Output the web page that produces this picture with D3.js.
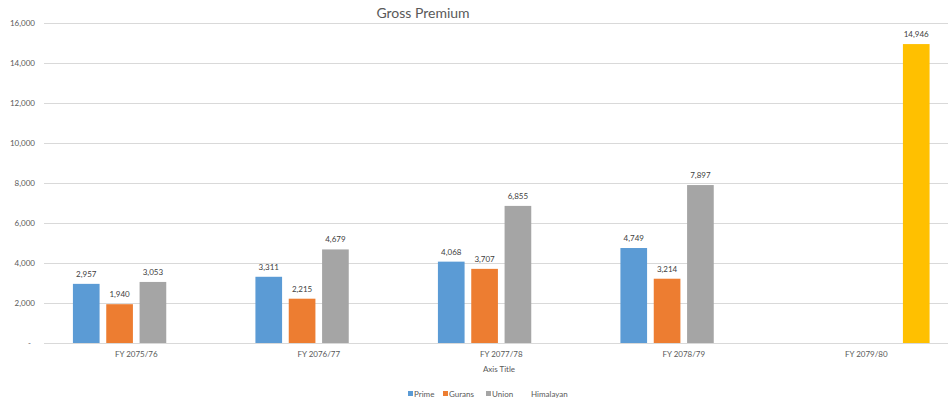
<!DOCTYPE html>
<html>
<head>
<meta charset="utf-8">
<script src="https://cdn.jsdelivr.net/npm/d3@7"></script>
<style>
  html, body { margin: 0; padding: 0; background: #fff; }
  svg { display: block; font-family: Lato, "Open Sans", sans-serif; }
</style>
</head>
<body>
<svg id="chart" width="948" height="404"></svg>
<script>
// Gross premium by fiscal year, one series per insurer
const categories = ["FY 2075/76", "FY 2076/77", "FY 2077/78", "FY 2078/79", "FY 2079/80"];
const seriesNames = ["Prime", "Gurans", "Union", "Himalayan"];
const prime     = [2957, 3311, 4068, 4749, null];
const gurans    = [1940, 2215, 3707, 3214, null];
const union     = [3053, 4679, 6855, 7897, null];
const himalayan = [null, null, null, null, 14946];
const yTicks = [0, 2000, 4000, 6000, 8000, 10000, 12000, 14000, 16000];
const colors = ["#5B9BD5", "#ED7D31", "#A5A5A5", "#FFC000"];

const seriesValues = [prime, gurans, union, himalayan];
const rows = categories.map((c, i) => ({
  category: c,
  bars: seriesNames.map((s, j) => ({ series: s, value: seriesValues[j][i], color: colors[j] }))
}));

const svg = d3.select("#chart");
const plotLeft = 45, bandStep = 182.5;
const plotTop = 23, plotBottom = 343;
const smallFont = "8px";

const x0 = d3.scaleBand()
  .domain(categories)
  .range([plotLeft, plotLeft + bandStep * categories.length])
  .paddingInner(0).paddingOuter(0);

const x1 = d3.scaleBand()
  .domain(seriesNames)
  .range([0, x0.bandwidth()])
  .paddingInner(0.2)
  .paddingOuter(0.8375);

const y = d3.scaleLinear().domain([0, 16000]).range([plotBottom, plotTop]);

const fmt = d3.format(",");

// gridlines
svg.append("g").selectAll("line")
  .data(yTicks)
  .join("line")
  .attr("x1", plotLeft - 1)
  .attr("x2", 948)
  .attr("y1", d => Math.round(y(d)) + 0.5)
  .attr("y2", d => Math.round(y(d)) + 0.5)
  .attr("stroke", "#d9d9d9")
  .attr("stroke-width", 1);

// value axis
const yAxis = d3.axisLeft(y)
  .tickValues(yTicks)
  .tickSize(0)
  .tickPadding(10)
  .tickFormat(d => d === 0 ? "-" : fmt(d));

const gy = svg.append("g")
  .attr("transform", `translate(${plotLeft},0)`)
  .call(yAxis);
gy.select(".domain").remove();
gy.selectAll("text")
  .attr("fill", "#595959")
  .style("font-size", smallFont)
  .style("font-family", "Lato, sans-serif");
gy.selectAll("text").filter(d => d === 0).attr("dx", -4);

// category axis
const xAxis = d3.axisBottom(x0).tickSize(0).tickPadding(8);
const gx = svg.append("g")
  .attr("transform", `translate(0,${plotBottom})`)
  .call(xAxis);
gx.select(".domain").remove();
gx.selectAll("text")
  .attr("fill", "#595959")
  .style("font-size", smallFont)
  .style("font-family", "Lato, sans-serif");

// bars
const groups = svg.append("g").selectAll("g")
  .data(rows)
  .join("g")
  .attr("transform", d => `translate(${x0(d.category)},0)`);

const present = d => d.bars.filter(b => b.value != null);

groups.selectAll("rect")
  .data(present)
  .join("rect")
  .attr("x", b => x1(b.series))
  .attr("width", x1.bandwidth())
  .attr("y", b => y(b.value))
  .attr("height", b => y(0) - y(b.value))
  .attr("fill", b => b.color);

groups.selectAll("text")
  .data(present)
  .join("text")
  .attr("x", b => x1(b.series) + x1.bandwidth() / 2)
  .attr("y", b => y(b.value) - 7)
  .attr("text-anchor", "middle")
  .attr("fill", "#404040")
  .style("font-size", smallFont)
  .text(b => fmt(b.value));

// title
svg.append("text")
  .attr("x", 423)
  .attr("y", 18)
  .attr("text-anchor", "middle")
  .attr("fill", "#595959")
  .style("font-size", "14px")
  .text("Gross Premium");

// axis title
svg.append("text")
  .attr("x", 499)
  .attr("y", 372)
  .attr("text-anchor", "middle")
  .attr("fill", "#595959")
  .style("font-size", smallFont)
  .text("Axis Title");

// legend (Himalayan entry is shown without a swatch)
const legendX = [408, 443, 486, 531];
const legend = svg.append("g").selectAll("g")
  .data(seriesNames)
  .join("g")
  .attr("transform", (d, i) => `translate(${legendX[i]},390)`);
legend.filter((d, i) => i < 3).append("rect")
  .attr("width", 5).attr("height", 5)
  .attr("y", 1)
  .attr("fill", (d, i) => colors[i]);
legend.append("text")
  .attr("x", (d, i) => i < 3 ? 6 : 0)
  .attr("y", 7)
  .attr("fill", "#595959")
  .style("font-size", smallFont)
  .text(d => d);
</script>
</body>
</html>
